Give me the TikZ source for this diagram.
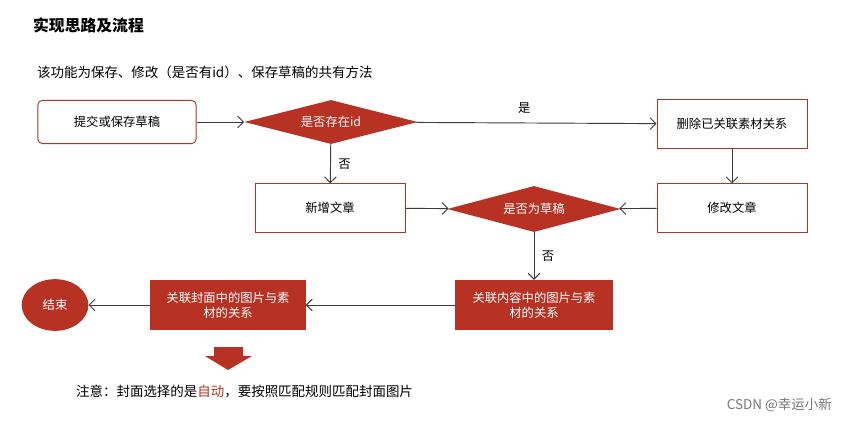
\documentclass[tikz,border=0pt]{standalone}
\usepackage{fontspec}
\setmainfont{Noto Sans CJK SC}
\usetikzlibrary{shapes.geometric, arrows.meta, positioning}
\definecolor{FlowRed}{RGB}{183, 50, 35}
\definecolor{FlowLine}{RGB}{60, 60, 60}
\definecolor{MarkGray}{RGB}{120, 120, 120}

\begin{document}
\begin{tikzpicture}[
        x=0.03cm, y=-0.03cm,
        plain/.style={rectangle, draw=FlowRed, thick, fill=white, minimum width=4.5cm, minimum height=1.45cm, font=\fontsize{10.5}{12.5}\selectfont},
        filled/.style={rectangle, fill=FlowRed, text=white, minimum width=4.75cm, minimum height=1.5cm, align=center, font=\fontsize{10.5}{12.5}\selectfont},
        choice/.style={diamond, fill=FlowRed, text=white, aspect=4.1, inner sep=0pt, minimum width=5.2cm, minimum height=1.32cm, font=\fontsize{10.5}{12.5}\selectfont},
        flow/.style={draw=FlowLine, thick, -{Straight Barb[length=5pt]}},
        tag/.style={font=\fontsize{10.5}{12.5}\selectfont}
    ]
    
    \fill[white] (0,0) rectangle (849,421);
    
    \node[anchor=west, font=\fontsize{13.5}{15}\selectfont\bfseries] (title) at (29,25) {实现思路及流程};
    \node[anchor=west, font=\fontsize{11.5}{13.5}\selectfont] (intro) at (33,72) {该功能为保存、修改（是否有id）、保存草稿的共有方法};
    
    \node[plain, rounded corners=4pt, minimum width=4.75cm, minimum height=1.3cm] (submit) at (117,122) {提交或保存草稿};
    \node[choice] (hasid) at (331,122) {是否存在id};
    \node[plain] (unlink) at (732,124) {删除已关联素材关系};
    \node[plain] (add) at (330,208) {新增文章};
    \node[choice, minimum height=1.38cm] (draft) at (534,209) {是否为草稿};
    \node[plain] (edit) at (732,208) {修改文章};
    \node[filled] (content) at (534,305) {关联内容中的图片与素\\材的关系};
    \node[filled, minimum width=4.65cm] (cover) at (228,305) {关联封面中的图片与素\\材的关系};
    \node[ellipse, fill=FlowRed, text=white, minimum width=2cm, minimum height=1.55cm, font=\fontsize{10.5}{12.5}\selectfont] (finish) at (55,305) {结束};
    
    \draw[flow] (submit) -- (hasid);
    \draw[flow] (hasid) -- node[tag, above=4pt, pos=0.45] {是} (unlink);
    \draw[flow] (hasid) -- node[tag, right=3pt] {否} (add);
    \draw[flow] (unlink) -- (edit);
    \draw[flow] (add) -- (draft);
    \draw[flow] (edit) -- (draft);
    \draw[flow] (draft) -- node[tag, right=3pt] {否} (content);
    \draw[flow] (content) -- (cover);
    \draw[flow] (cover) -- (finish);
    
    \fill[FlowRed] (214,347) -- (243,347) -- (243,356) -- (252,356) -- (228,370) -- (205,356) -- (214,356) -- cycle;
    \node[anchor=west, font=\fontsize{11.5}{13.5}\selectfont] (note) at (72,391) {注意：封面选择的是\textcolor{FlowRed}{自动}，要按照匹配规则匹配封面图片};
    \node[anchor=east, text=MarkGray, font=\fontsize{11.5}{13.5}\selectfont] (mark) at (836,405) {CSDN @幸运小新};
    
    \end{tikzpicture}
\end{document}
